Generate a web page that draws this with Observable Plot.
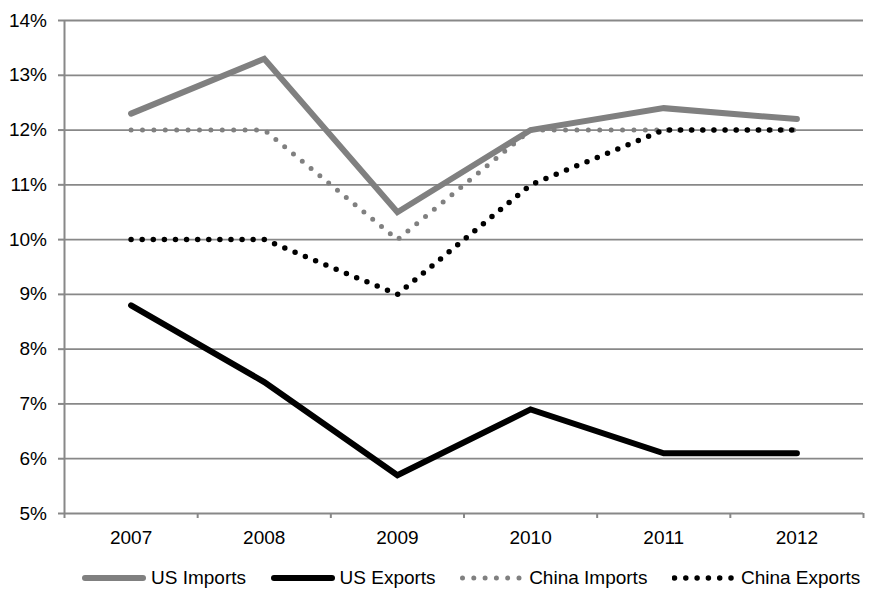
<!DOCTYPE html>
<html>
<head>
<meta charset="utf-8">
<script src="https://cdn.jsdelivr.net/npm/d3@7"></script>
<script src="https://cdn.jsdelivr.net/npm/@observablehq/plot@0.6"></script>
<style>
  html, body { margin: 0; padding: 0; background: #fff; overflow: hidden; }
  body { width: 874px; height: 589px; font-family: "Liberation Sans", Arial, sans-serif; }
  #legend { display: flex; align-items: center; height: 36px; padding-left: 82px; font-size: 19px; color: #000; white-space: nowrap; }
  #legend .item { display: flex; align-items: center; margin-right: 24.5px; }
  #legend svg { display: block; margin-right: 5px; }
</style>
</head>
<body>
<div id="chart"></div>
<div id="legend"></div>
<script>
// ---- data ----
const years = ["2007", "2008", "2009", "2010", "2011", "2012"];
const seriesNames = ["US Imports", "US Exports", "China Imports", "China Exports"];
const usImports = [12.3, 13.3, 10.5, 12.0, 12.4, 12.2];
const usExports = [8.8, 7.4, 5.7, 6.9, 6.1, 6.1];
const chinaImports = [12, 12, 10, 12, 12, 12];
const chinaExports = [10, 10, 9, 11, 12, 12];
const yTicks = [5, 6, 7, 8, 9, 10, 11, 12, 13, 14];

// ---- styles ----
const styles = {
  "US Imports": {stroke: "#808080", strokeWidth: 6, dash: null},
  "US Exports": {stroke: "#000000", strokeWidth: 6, dash: null},
  "China Imports": {stroke: "#808080", strokeWidth: 5, dash: "0 11.4"},
  "China Exports": {stroke: "#000000", strokeWidth: 5.5, dash: "0 11.1"}
};
const valuesBySeries = {
  "US Imports": usImports,
  "US Exports": usExports,
  "China Imports": chinaImports,
  "China Exports": chinaExports
};
const rows = s => years.map((yr, i) => ({pos: i + 0.5, year: yr, value: valuesBySeries[s][i], series: s}));

const gridColor = "#888888";
const lineMarks = seriesNames.map(s => Plot.line(rows(s), {
  x: "pos", y: "value",
  stroke: styles[s].stroke,
  strokeWidth: styles[s].strokeWidth,
  strokeDasharray: styles[s].dash || undefined,
  strokeLinecap: "round",
  strokeLinejoin: styles[s].dash ? "round" : "miter",
  strokeMiterlimit: 10
}));

const chart = Plot.plot({
  width: 874,
  height: 560,
  marginTop: 20,
  marginBottom: 47,
  marginLeft: 64,
  marginRight: 11,
  style: {fontFamily: "'Liberation Sans', Arial, sans-serif", fontSize: "19px", background: "#fff"},
  x: {domain: [0, years.length]},
  y: {domain: [5, 14]},
  marks: [
    Plot.ruleY(yTicks, {stroke: gridColor, strokeWidth: 1.8}),
    Plot.ruleX([0], {stroke: gridColor, strokeWidth: 2}),
    Plot.axisY({ticks: yTicks, tickSize: 6, tickPadding: 11.5, stroke: gridColor, strokeWidth: 2, fill: "#000", fontSize: 19, tickFormat: d => d + "%", label: null}),
    Plot.axisX({ticks: d3.range(0, years.length + 1), tickSize: 5, stroke: gridColor, strokeWidth: 2, tickFormat: () => "", label: null}),
    Plot.axisX({ticks: years.map((y, i) => i + 0.5), tickSize: 0, tickPadding: 17, fill: "#000", fontSize: 19, tickFormat: d => years[Math.round(d - 0.5)], label: null}),
    ...lineMarks
  ]
});
document.getElementById("chart").appendChild(chart);

// ---- legend ----
const legend = document.getElementById("legend");
for (const s of seriesNames) {
  const st = styles[s];
  const item = document.createElement("div");
  item.className = "item";
  const dash = st.dash ? `stroke-dasharray="0 11.3"` : "";
  const x1 = st.dash ? 2.5 : 3, x2 = st.dash ? 61.5 : 61;
  item.innerHTML = `<svg width="64" height="14"><line x1="${x1}" x2="${x2}" y1="7" y2="7" stroke="${st.stroke}" stroke-width="${st.strokeWidth}" stroke-linecap="round" ${dash}/></svg><span>${s}</span>`;
  legend.appendChild(item);
}
</script>
</body>
</html>
